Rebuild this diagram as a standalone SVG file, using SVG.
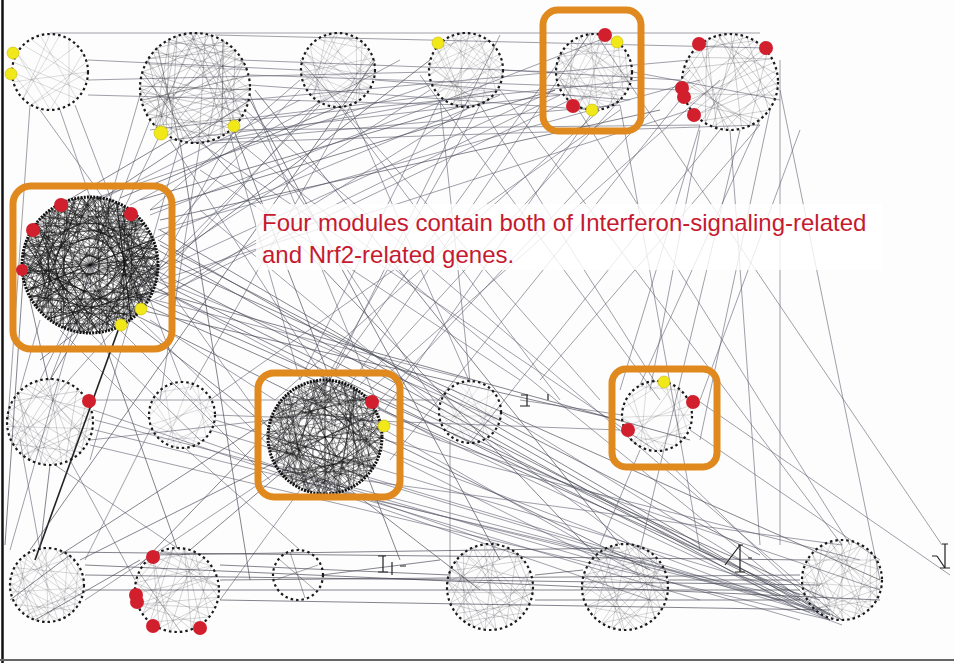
<svg xmlns="http://www.w3.org/2000/svg" xmlns:xlink="http://www.w3.org/1999/xlink" width="954" height="663" viewBox="0 0 954 663">
<style>
.bg{fill:#fdfdfd}
.lnk{fill:none;stroke:#5c5c6e;stroke-width:0.75;stroke-opacity:0.78}
.lnk2{fill:none;stroke:#444452;stroke-width:0.8;stroke-opacity:0.82}
.ring{fill:none;stroke:#1a1a1a;stroke-width:2.2;stroke-dasharray:2.5 3}
.ringd{fill:none;stroke:#111;stroke-width:3;stroke-dasharray:2 1.2}
.chord{fill:none;stroke:#2a2a33;stroke-width:0.7;stroke-opacity:0.6;vector-effect:non-scaling-stroke}
.chordd{fill:none;stroke:#111;stroke-width:0.9;stroke-opacity:0.7;vector-effect:non-scaling-stroke}
.box{fill:none;stroke:#e0891f;stroke-width:7}
.red{fill:#d21f2d}
.yel{fill:#f1e81a;stroke:#c9b800;stroke-width:0.6}
.txt{font-family:"Liberation Sans",Arial,sans-serif;font-size:24px;fill:#c61a30}
.tick{fill:none;stroke:#222;stroke-width:1.2}
</style>
<defs>
<path id="ch" d="M100 0 L-50 86.6 M96.6 25.9 L-70.7 -70.7 M86.6 50 L-96.6 -25.9 M70.7 70.7 L-25.9 -96.6 M50 86.6 L50 -86.6 M25.9 96.6 L-86.6 -50 M0 100 L86.6 -50 M-25.9 96.6 L-100 0 M-50 86.6 L96.6 -25.9 M-70.7 70.7 L25.9 -96.6 M-86.6 50 L70.7 -70.7 M-96.6 25.9 L100 0 M-100 0 L70.7 70.7 M-86.6 -50 L0 100 M-50 -86.6 L96.6 25.9 M0 -100 L-70.7 70.7"/>
<path id="chb" d="M100 0 L-25.9 96.6 M96.6 25.9 L-25.9 -96.6 M86.6 50 L-50 86.6 M70.7 70.7 L-86.6 50 M50 86.6 L-100 0 M25.9 96.6 L-96.6 -25.9 M0 100 L-70.7 -70.7 M-25.9 96.6 L0 -100 M-50 86.6 L50 -86.6 M-70.7 70.7 L70.7 -70.7 M-86.6 50 L86.6 -50 M-96.6 25.9 L-25.9 -96.6 M-100 0 L-50 -86.6 M-86.6 -50 L25.9 -96.6 M-50 -86.6 L96.6 -25.9 M0 -100 L100 0 M25.9 -96.6 L86.6 50 M70.7 -70.7 L50 86.6 M96.6 -25.9 L0 100"/>
</defs>
<rect class="bg" x="0" y="0" width="954" height="663"/>

<g id="connectors">
<path class="lnk" d="M245 110 L842 620 M230 135 L820 615 M200 143 L655 450 M170 140 L325 380 M150 120 L50 380 M140 95 L10 550 M250 85 L594 110 M250 75 L683 90 M240 60 L555 72 M215 35 L766 48 M50 33 L760 33 M88 60 L300 70 M88 80 L428 72 M75 105 L182 383 M60 110 L90 197 M30 105 L8 420 M40 110 L270 430 M88 95 L466 105 M300 90 L160 240 M320 105 L100 330 M375 80 L630 100 M350 107 L470 383 M430 90 L155 265 M440 100 L300 380 M503 70 L680 80 M480 105 L655 382 M500 90 L842 545 M560 95 L140 300 M594 110 L385 410 M633 72 L780 100 M620 105 L700 550 M700 125 L620 390 M730 130 L760 545 M780 90 L880 580 M760 125 L540 380 M690 110 L160 280"/>
<path class="lnk" d="M170 140 L560 95 M190 143 L620 105 M230 130 L700 125 M245 100 L690 60 M250 120 L640 80 M220 140 L500 90 M150 130 L440 95 M210 143 L760 125 M240 120 L130 320 M160 135 L40 380 M180 142 L90 460 M200 143 L160 400 M230 135 L300 380 M245 115 L440 410 M250 95 L380 410 M350 107 L190 390 M320 100 L60 390 M300 80 L150 210 M430 85 L90 200 M470 107 L160 300 M500 95 L150 240 M555 90 L160 270 M570 100 L90 330 M600 110 L275 400 M620 100 L360 385 M680 100 L390 460 M690 70 L380 400 M720 130 L470 443 M760 120 L640 385 M770 110 L700 440 M560 60 L300 420 M300 60 L600 400 M340 107 L560 400 M420 75 L660 400 M480 105 L320 390 M520 380 L200 170 M160 280 L500 420 M160 290 L440 440 M155 300 L470 380 M140 320 L325 500 M120 330 L270 480 M90 333 L200 440 M60 330 L150 420 M40 320 L20 390 M100 200 L300 100 M130 205 L400 60 M150 215 L600 40 M158 230 L700 80"/>
<path class="lnk2" d="M160 230 L830 620 M158 250 L800 610 M155 270 L842 620 M150 290 L690 440 M140 310 L620 420 M130 320 L480 590 M100 330 L177 548 M80 330 L50 380 M160 220 L660 110 M150 210 L555 90 M140 200 L466 105 M120 198 L338 107 M160 260 L880 580 M158 240 L720 560 M100 200 L250 100 M60 205 L170 140 M150 300 L830 600 M145 305 L800 595 M30 300 L48 380 M25 250 L5 545 M155 280 L830 615 M150 285 L815 612 M160 245 L760 555 M135 315 L650 570"/>
<path d="M120 325 L35 560" fill="none" stroke="#222" stroke-width="1.6"/>
<path class="lnk" d="M95 420 L820 610 M93 410 L650 600 M90 440 L270 420 M85 400 L440 400 M70 460 L135 580 M55 465 L180 550 M20 440 L40 550 M215 415 L620 430 M210 400 L620 110 M200 440 L500 545 M185 448 L300 550 M150 430 L85 560 M380 410 L830 620 M382 450 L842 625 M370 480 L810 612 M340 492 L800 600 M300 490 L220 600 M280 470 L85 600 M385 430 L640 575 M370 390 L720 80 M350 385 L590 33 M330 380 L500 35 M275 400 L150 320 M500 412 L830 615 M490 440 L665 570 M450 440 L450 580 M440 410 L200 210 M470 382 L440 100 M655 450 L830 620 M690 430 L880 560 M622 415 L520 400 M640 450 L600 545 M700 400 L800 130 M650 390 L700 130 M380 420 L880 590 M385 440 L860 560 M360 480 L842 545 M400 460 L600 560 M300 480 L700 600 M250 460 L800 620 M95 430 L780 600 M90 445 L830 620 M215 420 L820 600 M210 430 L830 615"/>
<path class="lnk" stroke-opacity="0.5" d="M690 395 L950 575 M600 40 L942 545 M780 60 L780 545 M740 130 L640 550 M560 80 L850 545"/>
<path class="lnk2" d="M85 590 L800 590 M85 575 L820 585 M85 565 L880 600 M220 580 L800 575 M220 600 L830 610 M220 565 L450 575 M190 550 L320 440 M322 575 L440 560 M535 575 L583 570 M535 600 L800 600 M668 580 L800 580 M40 550 L50 465 M60 555 L330 380 M80 560 L380 410 M140 565 L270 430 M35 620 L140 560 M10 600 L70 555 M250 100 L500 560 M230 120 L400 560 M180 143 L250 580 M200 140 L600 560 M255 90 L620 545 M430 60 L40 360 M375 60 L30 550 M60 552 L810 560 M150 555 L620 548"/>
</g>

<g id="text-backdrop"><rect x="256" y="204" width="626" height="66" fill="#ffffff" fill-opacity="0.8"/></g>

<g id="m1"><use xlink:href="#ch" class="chord" transform="translate(50,72) scale(0.38)"/><circle class="ring" cx="50" cy="72" r="38"/><circle class="yel" cx="13" cy="53" r="6"/><circle class="yel" cx="11" cy="74" r="6"/></g>
<g id="m2"><use xlink:href="#ch" class="chord" transform="translate(195,88) scale(0.55)"/><use xlink:href="#chb" class="chord" transform="translate(195,88) scale(0.55) rotate(47)"/><use xlink:href="#ch" class="chord" transform="translate(195,88) scale(0.55) rotate(131)"/><use xlink:href="#chb" class="chord" transform="translate(195,88) scale(0.55) rotate(212)"/><circle class="ring" cx="195" cy="88" r="55"/><circle class="yel" cx="161" cy="133" r="7"/><circle class="yel" cx="234" cy="126" r="6"/></g>
<g id="m3"><use xlink:href="#ch" class="chord" transform="translate(338,70) scale(0.37)"/><use xlink:href="#chb" class="chord" transform="translate(338,70) scale(0.37) rotate(71)"/><circle class="ring" cx="338" cy="70" r="37"/></g>
<g id="m4"><use xlink:href="#chb" class="chord" transform="translate(466,70) scale(0.37) rotate(5)"/><use xlink:href="#ch" class="chord" transform="translate(466,70) scale(0.37) rotate(97)"/><circle class="ring" cx="466" cy="70" r="37"/><circle class="yel" cx="438" cy="43" r="6"/></g>
<g id="m5"><use xlink:href="#ch" class="chord" transform="translate(594,72) scale(0.38) rotate(3)"/><use xlink:href="#chb" class="chord" transform="translate(594,72) scale(0.38) rotate(144)"/><circle class="ring" cx="594" cy="72" r="38"/><rect class="box" x="543" y="10" width="98" height="121" rx="15"/><circle class="red" cx="605" cy="35" r="7"/><circle class="yel" cx="617" cy="42" r="6"/><circle class="red" cx="573" cy="106" r="7"/><circle class="yel" cx="592" cy="110" r="6"/></g>
<g id="m6"><use xlink:href="#chb" class="chord" transform="translate(730,82) scale(0.48) rotate(6)"/><use xlink:href="#ch" class="chord" transform="translate(730,82) scale(0.48) rotate(121)"/><circle class="ring" cx="730" cy="82" r="48"/><circle class="red" cx="699" cy="44" r="7"/><circle class="red" cx="766" cy="48" r="7"/><circle class="red" cx="682" cy="88" r="7"/><circle class="red" cx="684" cy="97" r="7"/><circle class="red" cx="694" cy="115" r="7"/></g>

<g id="m7"><use xlink:href="#ch" class="chordd" transform="translate(90,265) scale(0.68)"/><use xlink:href="#chb" class="chordd" transform="translate(90,265) scale(0.68) rotate(23)"/><use xlink:href="#ch" class="chordd" transform="translate(90,265) scale(0.68) rotate(61)"/><use xlink:href="#chb" class="chordd" transform="translate(90,265) scale(0.68) rotate(94)"/><use xlink:href="#ch" class="chordd" transform="translate(90,265) scale(0.68) rotate(137)"/><use xlink:href="#chb" class="chordd" transform="translate(90,265) scale(0.68) rotate(169)"/><use xlink:href="#ch" class="chordd" transform="translate(90,265) scale(0.68) rotate(203)"/><use xlink:href="#chb" class="chordd" transform="translate(90,265) scale(0.68) rotate(241)"/><use xlink:href="#ch" class="chordd" transform="translate(90,265) scale(0.68) rotate(277)"/><use xlink:href="#chb" class="chordd" transform="translate(90,265) scale(0.68) rotate(313)"/><use xlink:href="#ch" class="chordd" transform="translate(90,265) scale(0.68) rotate(341)"/><use xlink:href="#chb" class="chordd" transform="translate(90,265) scale(-0.68,0.68) rotate(52)"/><use xlink:href="#ch" class="chordd" transform="translate(90,265) scale(-0.68,0.68) rotate(187)"/><use xlink:href="#chb" class="chordd" transform="translate(90,265) scale(-0.68,0.68) rotate(262)"/><circle class="ringd" cx="90" cy="265" r="68"/><rect class="box" x="13" y="186" width="159" height="163" rx="18"/><circle class="red" cx="61" cy="205" r="7"/><circle class="red" cx="131" cy="214" r="7"/><circle class="red" cx="33" cy="230" r="7"/><circle class="red" cx="22" cy="270" r="6"/><circle class="yel" cx="141" cy="309" r="6"/><circle class="yel" cx="121" cy="325" r="6"/></g>

<g id="m8"><use xlink:href="#ch" class="chord" transform="translate(50,422) scale(0.43) rotate(9)"/><use xlink:href="#chb" class="chord" transform="translate(50,422) scale(0.43) rotate(164)"/><circle class="ring" cx="50" cy="422" r="43"/><circle class="red" cx="89" cy="401" r="7"/></g>
<g id="m9"><use xlink:href="#chb" class="chord" transform="translate(182,415) scale(0.33) rotate(13)"/><circle class="ring" cx="182" cy="415" r="33"/></g>
<g id="m10"><use xlink:href="#ch" class="chordd" transform="translate(325,437) scale(0.57)"/><use xlink:href="#chb" class="chordd" transform="translate(325,437) scale(0.57) rotate(36)"/><use xlink:href="#ch" class="chordd" transform="translate(325,437) scale(0.57) rotate(83)"/><use xlink:href="#chb" class="chordd" transform="translate(325,437) scale(0.57) rotate(119)"/><use xlink:href="#ch" class="chordd" transform="translate(325,437) scale(0.57) rotate(166)"/><use xlink:href="#chb" class="chordd" transform="translate(325,437) scale(0.57) rotate(214)"/><use xlink:href="#ch" class="chordd" transform="translate(325,437) scale(0.57) rotate(258)"/><use xlink:href="#chb" class="chordd" transform="translate(325,437) scale(0.57) rotate(301)"/><use xlink:href="#ch" class="chordd" transform="translate(325,437) scale(-0.57,0.57) rotate(70)"/><circle class="ringd" cx="325" cy="437" r="57"/><rect class="box" x="258" y="373" width="142" height="124" rx="16"/><circle class="red" cx="372" cy="402" r="7"/><circle class="yel" cx="384" cy="426" r="6"/></g>
<g id="m11"><use xlink:href="#ch" class="chord" transform="translate(470,412) scale(0.31) rotate(7)"/><circle class="ring" cx="470" cy="412" r="31"/></g>
<g id="m12"><use xlink:href="#chb" class="chord" transform="translate(657,416) scale(0.35) rotate(28)"/><circle class="ring" cx="657" cy="416" r="35"/><rect class="box" x="612" y="369" width="105" height="98" rx="14"/><circle class="yel" cx="664" cy="382" r="6"/><circle class="red" cx="693" cy="402" r="7"/><circle class="red" cx="628" cy="430" r="7"/></g>
<g id="s1"><path class="tick" d="M521 395 L528 395 M527 395 L527 406 M548 394 L548 400 M520 406 L530 406"/></g>

<g id="m13"><use xlink:href="#ch" class="chord" transform="translate(47,585) scale(0.37) rotate(4)"/><use xlink:href="#chb" class="chord" transform="translate(47,585) scale(0.37) rotate(118)"/><circle class="ring" cx="47" cy="585" r="37"/></g>
<g id="m14"><use xlink:href="#chb" class="chord" transform="translate(177,590) scale(0.42) rotate(10)"/><use xlink:href="#ch" class="chord" transform="translate(177,590) scale(0.42) rotate(145)"/><circle class="ring" cx="177" cy="590" r="42"/><circle class="red" cx="153" cy="557" r="7"/><circle class="red" cx="136" cy="595" r="7"/><circle class="red" cx="137" cy="602" r="7"/><circle class="red" cx="153" cy="626" r="7"/><circle class="red" cx="200" cy="628" r="7"/></g>
<g id="m15"><circle class="ring" cx="298" cy="575" r="25" stroke-width="1.6"/><path class="chord" d="M280 560 L315 590 M275 580 L318 565 M290 552 L305 598"/></g>
<g id="s2"><path class="tick" d="M378 556 L386 556 M383 556 L383 572 M392 562 L392 575 M378 572 L388 572 M400 566 L406 566"/></g>
<g id="m16"><use xlink:href="#ch" class="chord" transform="translate(490,587) scale(0.43) rotate(8)"/><use xlink:href="#chb" class="chord" transform="translate(490,587) scale(0.43) rotate(127)"/><circle class="ring" cx="490" cy="587" r="43"/></g>
<g id="m17"><use xlink:href="#chb" class="chord" transform="translate(625,587) scale(0.43) rotate(3)"/><use xlink:href="#ch" class="chord" transform="translate(625,587) scale(0.43) rotate(196)"/><circle class="ring" cx="625" cy="587" r="43"/></g>
<g id="s3"><path class="tick" d="M738 545 L743 545 M740 545 L725 565 M740 545 L740 572 M735 572 L745 572 M748 558 L752 558"/></g>
<g id="m18"><use xlink:href="#ch" class="chord" transform="translate(842,580) scale(0.4) rotate(12)"/><use xlink:href="#chb" class="chord" transform="translate(842,580) scale(0.4) rotate(150)"/><circle class="ring" cx="842" cy="580" r="40"/></g>
<g id="s4"><path class="tick" d="M942 544 L948 544 M945 544 L945 568 M932 556 L937 556 M940 568 L950 568 M937 556 L945 568"/></g>

<g id="label"><text class="txt" x="262" y="231">Four modules contain both of Interferon-signaling-related</text><text class="txt" x="262" y="263">and Nrf2-related genes.</text></g>

<g id="frame"><line x1="2.5" y1="0" x2="2.5" y2="663" stroke="#111" stroke-width="2.5"/><line x1="0" y1="660" x2="954" y2="660" stroke="#666" stroke-width="2"/></g>
</svg>
